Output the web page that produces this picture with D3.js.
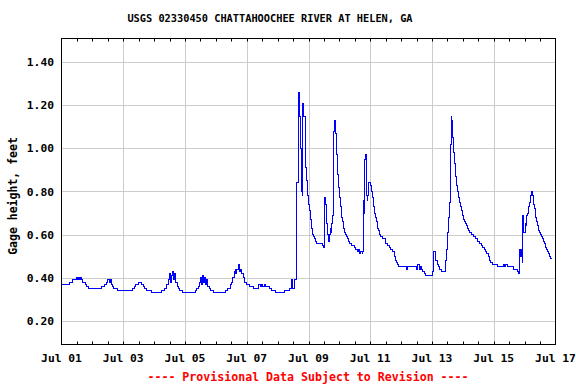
<!DOCTYPE html>
<html>
<head>
<meta charset="utf-8">
<script src="https://cdn.jsdelivr.net/npm/d3@7"></script>
<style>
  body { margin: 0; background: #fff; }
  text { font-family: "DejaVu Sans Mono", "Liberation Mono", monospace; font-weight: bold; }
</style>
</head>
<body>
<svg id="chart" width="576" height="384"></svg>
<script>
// gage readings: hours after Jul 01 00:00, and gage height in feet
var hours = [
  0, 6.1, 8.4, 11.8, 12.5, 13, 13.5, 14, 14.5, 15, 15.7, 16.7, 18.3, 19.4, 20.6,
  31.2, 33.3, 34.6, 36.1, 37, 38.2, 38.9, 39.6, 40.8, 43.4,
  55.3, 56.7, 57.9, 59.5, 61, 62.2, 63.4, 64.5, 66.2, 69.6,
  77.9, 79.7, 81.8, 82.8, 84, 84.7, 85.5, 86.3, 87, 87.8, 88.6, 89.8, 90.9, 92.1, 93.7,
  103.8, 104.9, 106.3, 107.3, 108, 108.8, 109.6, 110.4, 111.2, 111.9, 112.7, 113.5, 114.7, 116, 118,
  127.1, 129.4, 131, 132.1, 133.1, 134.1, 134.9, 135.6, 136.4, 137.7, 138.4, 139.1, 139.9, 141.1, 142.2,
  144, 146.5, 149.6, 153, 154.5, 155.5, 156.5, 157.5, 158.5, 160, 161.3, 163.4, 166,
  173.7, 177.6, 178.9, 179.5, 181, 181.5, 182.3, 182.8,
  183.3, 184.1, 184.9, 185.6, 186.2, 186.9, 187.2, 187.7, 188.5, 189.3, 190.1, 191.1, 191.8,
  192.6, 193.4, 194.2, 195, 195.7, 196.5, 197.3, 198.1, 202.7, 203.5,
  204.3, 205, 205.8, 206.9, 207.4, 208.2, 208.9, 209.5, 210, 210.8, 211.3, 212, 212.8, 213.6,
  214.4, 215.2, 215.9, 216.7, 217.5, 218.3, 219, 219.8, 220.6, 221.7, 222.5, 223.2, 224,
  225.6, 227.4, 228.7, 230.2, 231, 231.5, 232.8, 233.6, 234.1,
  234.4, 235.1, 235.7, 236.2, 236.7, 237.2, 237.7, 238, 238.5, 240, 240.8, 241.6, 242.4,
  243.1, 243.9, 244.7, 245.5, 246.2, 247, 248.1, 249.7, 251.5, 253.2, 254.8, 256.1, 257.4,
  258.5, 259.5, 260.2, 261, 262.1, 268.3, 269, 270, 276.1, 277, 278, 279, 280,
  280.8, 282, 283.3, 288.5, 289.3, 290.6, 291.1, 291.9, 292.7, 293.7, 295.5,
  298.3, 299.1, 299.9, 300.7, 301.5, 302.2, 303, 303.5, 303.8, 304.3, 304.9, 305.6, 306.4,
  307.2, 308, 308.7, 309.5, 310.3, 311.1, 311.9, 312.6, 313.4, 314.2, 315, 315.7, 316.5,
  317.5, 318.8, 320.1, 321.9, 323.5, 324.8, 326.1, 327.4, 328.7, 329.7, 330.7, 331.8,
  332.8, 333.8, 334.9, 338.7, 343.4, 344.5, 345.5, 346.5, 349.9, 351.7, 354.6, 355.4,
  355.9, 356.4, 357, 357.4, 358, 358.2, 358.7, 359.5, 360.3, 361.1, 361.6, 362.4, 363.2,
  363.9, 364.7, 365.5, 366.3, 367, 367.8, 368.6, 369.4, 370.2, 370.9, 371.7, 372.5,
  373.3, 374, 374.8, 375.6, 376.4, 377.2, 377.9, 378.7, 379.5, 380.3, 381
];
var gage = [
  0.37, 0.38, 0.39, 0.40, 0.39, 0.40, 0.39, 0.40, 0.39, 0.40, 0.39, 0.38, 0.37, 0.36, 0.35,
  0.36, 0.37, 0.38, 0.39, 0.38, 0.39, 0.37, 0.36, 0.35, 0.34,
  0.35, 0.36, 0.37, 0.38, 0.38, 0.37, 0.36, 0.35, 0.34, 0.33,
  0.34, 0.35, 0.37, 0.39, 0.42, 0.38, 0.41, 0.43, 0.39, 0.42, 0.38, 0.36, 0.35, 0.34, 0.33,
  0.34, 0.35, 0.36, 0.38, 0.40, 0.37, 0.41, 0.38, 0.40, 0.37, 0.39, 0.36, 0.35, 0.34, 0.33,
  0.34, 0.35, 0.37, 0.38, 0.40, 0.43, 0.44, 0.42, 0.44, 0.46, 0.43, 0.44, 0.42, 0.40, 0.38,
  0.37, 0.36, 0.35, 0.37, 0.36, 0.37, 0.36, 0.37, 0.36, 0.36, 0.35, 0.34, 0.33,
  0.34, 0.35, 0.39, 0.35, 0.37, 0.39, 0.42, 0.84,
  0.84, 1.26, 1.15, 1.00, 0.80, 0.91, 0.78, 1.21, 1.15, 0.91, 0.85, 0.78, 0.74,
  0.71, 0.67, 0.63, 0.60, 0.59, 0.58, 0.57, 0.56, 0.55, 0.54,
  0.77, 0.74, 0.65, 0.60, 0.57, 0.60, 0.63, 0.61, 0.65, 0.69, 1.08, 1.13, 1.07, 0.97,
  0.88, 0.82, 0.77, 0.73, 0.68, 0.66, 0.63, 0.61, 0.60, 0.59, 0.58, 0.57, 0.56,
  0.55, 0.54, 0.53, 0.52, 0.53, 0.51, 0.52, 0.51, 0.52,
  0.76, 0.70, 0.95, 0.97, 0.83, 0.78, 0.76, 0.78, 0.84, 0.83, 0.80, 0.77, 0.73,
  0.70, 0.68, 0.66, 0.63, 0.62, 0.60, 0.59, 0.58, 0.56, 0.55, 0.54, 0.53, 0.52,
  0.50, 0.48, 0.47, 0.46, 0.45, 0.44, 0.45, 0.45, 0.44, 0.46, 0.44, 0.45, 0.44,
  0.43, 0.42, 0.41, 0.43, 0.52, 0.51, 0.48, 0.46, 0.45, 0.44, 0.43,
  0.48, 0.53, 0.61, 0.68, 0.75, 1.02, 1.15, 1.08, 1.13, 1.05, 0.98, 0.93, 0.87,
  0.83, 0.80, 0.77, 0.75, 0.73, 0.71, 0.69, 0.67, 0.66, 0.65, 0.64, 0.63, 0.62,
  0.61, 0.60, 0.59, 0.58, 0.57, 0.56, 0.55, 0.54, 0.53, 0.52, 0.51, 0.50,
  0.48, 0.47, 0.46, 0.45, 0.46, 0.45, 0.46, 0.45, 0.45, 0.44, 0.43, 0.42,
  0.49, 0.53, 0.50, 0.53, 0.47, 0.62, 0.69, 0.61, 0.65, 0.64, 0.69, 0.70, 0.73,
  0.75, 0.78, 0.80, 0.78, 0.74, 0.72, 0.68, 0.66, 0.64, 0.62, 0.61, 0.60,
  0.59, 0.58, 0.57, 0.56, 0.54, 0.53, 0.52, 0.51, 0.50, 0.49, 0.49
];
var yTicks = [0.20, 0.40, 0.60, 0.80, 1.00, 1.20, 1.40];
var title = "USGS 02330450 CHATTAHOOCHEE RIVER AT HELEN, GA";
var yLabel = "Gage height, feet";
var note = "---- Provisional Data Subject to Revision ----";

var svg = d3.select("#chart"),
    plotL = 61.5, plotR = 555.5, plotT = 38.5, plotB = 344.5;

var start = new Date(2021, 6, 1),
    end = new Date(2021, 6, 17);

var x = d3.scaleTime().domain([start, end]).range([plotL, plotR]);
var y = d3.scaleLinear().domain([0.09, 1.51]).range([plotB, plotT]);

var data = hours.map(function (h, i) {
    return { t: new Date(+start + h * 3600000), v: gage[i] };
});

// grid
svg.append("g")
    .selectAll("line")
    .data(yTicks)
    .enter().append("line")
    .attr("x1", plotL).attr("x2", plotR)
    .attr("y1", function (d) { return Math.round(y(d)) + 0.5; })
    .attr("y2", function (d) { return Math.round(y(d)) + 0.5; })
    .attr("stroke", "#cccccc");

var gridDays = d3.timeDay.range(d3.timeDay.offset(start, 2), end, 2);
svg.append("g")
    .selectAll("line")
    .data(gridDays)
    .enter().append("line")
    .attr("x1", function (d) { return Math.round(x(d)) + 0.5; })
    .attr("x2", function (d) { return Math.round(x(d)) + 0.5; })
    .attr("y1", plotT).attr("y2", plotB)
    .attr("stroke", "#cccccc");

// half-day ticks on top and bottom edges
var halfDays = d3.timeHour.every(12).range(start, end).slice(1);
var ticks = svg.append("g").attr("stroke", "#000");
ticks.selectAll(".tt")
    .data(halfDays)
    .enter().append("line")
    .attr("x1", function (d) { return Math.round(x(d)) + 0.5; })
    .attr("x2", function (d) { return Math.round(x(d)) + 0.5; })
    .attr("y1", plotT).attr("y2", plotT + 3);
ticks.selectAll(".bt")
    .data(halfDays)
    .enter().append("line")
    .attr("x1", function (d) { return Math.round(x(d)) + 0.5; })
    .attr("x2", function (d) { return Math.round(x(d)) + 0.5; })
    .attr("y1", plotB).attr("y2", plotB - 3);

// series
var line = d3.line()
    .x(function (d) { return x(d.t); })
    .y(function (d) { return y(d.v); })
    .curve(d3.curveStepAfter);

svg.append("path")
    .datum(data)
    .attr("fill", "none")
    .attr("stroke", "#0000ff")
    .attr("stroke-width", 1)
    .attr("shape-rendering", "crispEdges")
    .attr("d", line);

// frame
svg.append("rect")
    .attr("x", plotL).attr("y", plotT)
    .attr("width", plotR - plotL).attr("height", plotB - plotT)
    .attr("fill", "none")
    .attr("stroke", "#000");

// labels
svg.append("g")
    .selectAll("text")
    .data(yTicks)
    .enter().append("text")
    .attr("x", 54)
    .attr("y", function (d) { return y(d) + 4; })
    .attr("text-anchor", "end")
    .attr("font-size", "11.3px")
    .text(function (d) { return d.toFixed(2); });

var labelDays = d3.timeDay.range(start, d3.timeDay.offset(end, 1), 2);
svg.append("g")
    .selectAll("text")
    .data(labelDays)
    .enter().append("text")
    .attr("x", function (d) { return x(d); })
    .attr("y", 362)
    .attr("text-anchor", "middle")
    .attr("font-size", "11.3px")
    .text(d3.timeFormat("%b %d"));

svg.append("text")
    .attr("x", 270)
    .attr("y", 22)
    .attr("text-anchor", "middle")
    .attr("font-size", "10.3px")
    .text(title);

svg.append("text")
    .attr("transform", "translate(17,196) rotate(-90)")
    .attr("text-anchor", "middle")
    .attr("font-size", "11.5px")
    .text(yLabel);

svg.append("text")
    .attr("x", 308)
    .attr("y", 380.5)
    .attr("text-anchor", "middle")
    .attr("font-size", "11.6px")
    .attr("fill", "#ff0000")
    .text(note);
</script>
</body>
</html>
